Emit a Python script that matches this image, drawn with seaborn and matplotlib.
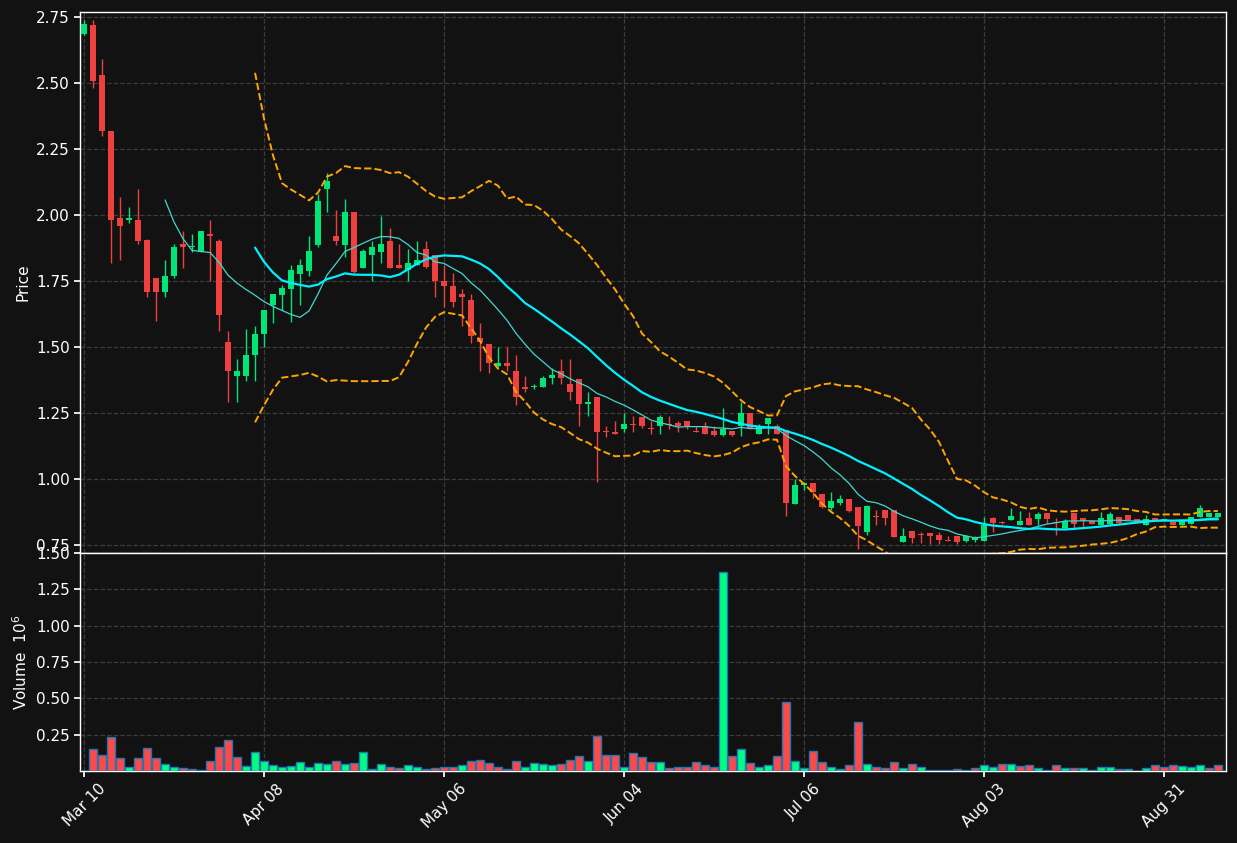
import numpy as np
import pandas as pd
import seaborn as sns
import matplotlib
matplotlib.use("Agg")
import matplotlib.pyplot as plt

# OHLC (one row per trading day)
opens = [2.686, 2.72, 2.53, 2.32, 1.99, 1.98, 1.98, 1.905, 1.76, 1.71,
         1.77, 1.89, 1.88, 1.86, 1.93, 1.90, 1.52, 1.39, 1.39, 1.47,
         1.55, 1.66, 1.697, 1.72, 1.777, 1.788, 1.886, 2.098, 1.92, 1.886,
         2.01, 1.80, 1.85, 1.86, 1.90, 1.81, 1.79, 1.81, 1.87, 1.85,
         1.75, 1.73, 1.70, 1.68, 1.534, 1.51, 1.43, 1.44, 1.41, 1.35,
         1.35, 1.35, 1.383, 1.41, 1.36, 1.38, 1.284, 1.31, 1.18, 1.18,
         1.19, 1.205, 1.236, 1.19, 1.20, 1.205, 1.212, 1.22, 1.18, 1.20,
         1.183, 1.167, 1.183, 1.20, 1.25, 1.17, 1.208, 1.20, 1.185, 0.905,
         0.978, 0.984, 0.943, 0.889, 0.91, 0.924, 0.894, 0.80, 0.86, 0.883,
         0.883, 0.763, 0.803, 0.79, 0.796, 0.79, 0.767, 0.784, 0.766, 0.771,
         0.765, 0.853, 0.834, 0.846, 0.826, 0.853, 0.848, 0.873, 0.835, 0.816,
         0.87, 0.852, 0.841, 0.826, 0.83, 0.855, 0.864, 0.848, 0.826, 0.853,
         0.845, 0.838, 0.826, 0.83, 0.855, 0.857, 0.855]
highs = [2.74, 2.74, 2.59, 2.32, 2.07, 2.03, 2.10, 1.91, 1.76, 1.83,
         1.89, 1.94, 1.93, 1.94, 1.98, 1.91, 1.56, 1.455, 1.57, 1.58,
         1.64, 1.70, 1.735, 1.81, 1.833, 1.92, 2.08, 2.16, 2.02, 2.06,
         2.01, 1.87, 1.90, 1.997, 1.95, 1.89, 1.87, 1.90, 1.90, 1.85,
         1.81, 1.78, 1.72, 1.70, 1.59, 1.51, 1.50, 1.50, 1.47, 1.39,
         1.36, 1.39, 1.42, 1.455, 1.455, 1.38, 1.33, 1.31, 1.20, 1.22,
         1.25, 1.24, 1.236, 1.22, 1.243, 1.24, 1.22, 1.22, 1.20, 1.215,
         1.20, 1.27, 1.183, 1.29, 1.25, 1.21, 1.233, 1.21, 1.185, 1.00,
         0.99, 0.985, 0.943, 0.952, 0.94, 0.924, 0.894, 0.90, 0.883, 0.883,
         0.883, 0.814, 0.803, 0.80, 0.796, 0.80, 0.784, 0.784, 0.79, 0.784,
         0.855, 0.855, 0.84, 0.89, 0.879, 0.876, 0.876, 0.873, 0.852, 0.85,
         0.87, 0.852, 0.841, 0.875, 0.875, 0.855, 0.864, 0.848, 0.864, 0.853,
         0.85, 0.838, 0.845, 0.855, 0.90, 0.87, 0.87]
lows = [2.68, 2.48, 2.30, 1.82, 1.83, 1.97, 1.89, 1.69, 1.60, 1.69,
        1.76, 1.80, 1.86, 1.86, 1.75, 1.56, 1.29, 1.29, 1.37, 1.37,
        1.50, 1.59, 1.64, 1.595, 1.66, 1.77, 1.88, 2.01, 1.886, 1.84,
        1.78, 1.80, 1.75, 1.82, 1.80, 1.80, 1.75, 1.81, 1.80, 1.69,
        1.65, 1.65, 1.58, 1.515, 1.41, 1.40, 1.425, 1.41, 1.28, 1.33,
        1.34, 1.35, 1.36, 1.36, 1.30, 1.20, 1.24, 0.99, 1.16, 1.17,
        1.18, 1.18, 1.195, 1.17, 1.17, 1.19, 1.18, 1.19, 1.18, 1.17,
        1.165, 1.165, 1.165, 1.165, 1.19, 1.17, 1.17, 1.17, 0.86, 0.905,
        0.96, 0.93, 0.89, 0.883, 0.90, 0.875, 0.735, 0.788, 0.826, 0.826,
        0.781, 0.763, 0.757, 0.757, 0.755, 0.755, 0.765, 0.755, 0.76, 0.76,
        0.765, 0.80, 0.83, 0.845, 0.826, 0.826, 0.826, 0.832, 0.79, 0.816,
        0.815, 0.82, 0.83, 0.826, 0.83, 0.834, 0.845, 0.836, 0.826, 0.845,
        0.84, 0.826, 0.826, 0.83, 0.855, 0.857, 0.855]
closes = [2.723, 2.509, 2.32, 1.98, 1.96, 1.99, 1.90, 1.71, 1.71, 1.77,
          1.88, 1.88, 1.88, 1.94, 1.92, 1.62, 1.41, 1.41, 1.47, 1.55,
          1.64, 1.70, 1.725, 1.79, 1.81, 1.864, 2.053, 2.13, 1.90, 2.01,
          1.785, 1.864, 1.88, 1.89, 1.80, 1.80, 1.82, 1.83, 1.805, 1.75,
          1.73, 1.67, 1.69, 1.54, 1.52, 1.44, 1.44, 1.43, 1.31, 1.34,
          1.35, 1.383, 1.394, 1.383, 1.33, 1.284, 1.29, 1.18, 1.178, 1.17,
          1.21, 1.203, 1.20, 1.188, 1.235, 1.203, 1.20, 1.20, 1.178, 1.17,
          1.167, 1.19, 1.167, 1.25, 1.19, 1.20, 1.233, 1.17, 0.91, 0.976,
          0.984, 0.952, 0.895, 0.917, 0.924, 0.88, 0.822, 0.898, 0.858, 0.853,
          0.781, 0.784, 0.778, 0.788, 0.784, 0.77, 0.766, 0.76, 0.784, 0.777,
          0.826, 0.834, 0.833, 0.86, 0.841, 0.826, 0.867, 0.848, 0.832, 0.843,
          0.83, 0.84, 0.83, 0.852, 0.867, 0.834, 0.845, 0.836, 0.848, 0.845,
          0.845, 0.826, 0.845, 0.855, 0.89, 0.87, 0.87]
# volume in millions
volumes = [0.0, 0.150, 0.109, 0.234, 0.088, 0.025, 0.088, 0.157, 0.088, 0.046,
           0.025, 0.019, 0.012, 0.007, 0.069, 0.164, 0.213, 0.095, 0.032, 0.130,
           0.067, 0.039, 0.025, 0.032, 0.060, 0.025, 0.053, 0.046, 0.067, 0.046,
           0.053, 0.130, 0.012, 0.046, 0.025, 0.019, 0.039, 0.025, 0.012, 0.019,
           0.025, 0.025, 0.039, 0.067, 0.074, 0.053, 0.025, 0.012, 0.067, 0.030,
           0.053, 0.046, 0.039, 0.046, 0.074, 0.102, 0.067, 0.241, 0.109, 0.109,
           0.025, 0.123, 0.095, 0.060, 0.060, 0.019, 0.025, 0.030, 0.060, 0.039,
           0.025, 1.368, 0.102, 0.150, 0.053, 0.025, 0.039, 0.102, 0.477, 0.067,
           0.019, 0.137, 0.060, 0.030, 0.016, 0.044, 0.340, 0.051, 0.030, 0.023,
           0.065, 0.023, 0.051, 0.030, 0.005, 0.005, 0.010, 0.016, 0.010, 0.023,
           0.044, 0.030, 0.051, 0.051, 0.037, 0.044, 0.023, 0.010, 0.044, 0.023,
           0.023, 0.023, 0.005, 0.030, 0.030, 0.016, 0.016, 0.003, 0.023, 0.044,
           0.030, 0.044, 0.037, 0.030, 0.044, 0.020, 0.040]
tick_labels = ["Mar 10", "Apr 08", "May 06", "Jun 04", "Jul 06", "Aug 03", "Aug 31"]

df = pd.DataFrame({"Open": opens, "High": highs, "Low": lows,
                   "Close": closes, "Volume": volumes})
df["i"] = np.arange(len(df))
df["ma10"] = df["Close"].rolling(10).mean()
df["ma20"] = df["Close"].rolling(20).mean()
std20 = df["Close"].rolling(20).std(ddof=0)
df["bb_up"] = df["ma20"] + 2 * std20
df["bb_lo"] = df["ma20"] - 2 * std20

up_col, dn_col = "#00e676", "#ef4040"
vol_up, vol_dn = "#00ff80", "#ff4848"
bg = "#121212"

sns.set_theme(style="dark", rc={
    "axes.facecolor": bg, "figure.facecolor": bg, "axes.edgecolor": "white",
    "text.color": "white", "axes.labelcolor": "white",
    "xtick.color": "white", "ytick.color": "white",
    "grid.color": "#3c3c3c", "grid.linestyle": "--",
})
plt.rcParams["font.family"] = ["DejaVu Sans"]

fig = plt.figure(figsize=(12.37, 8.43), dpi=100)
ax = fig.add_axes([0.0647, 0.344, 0.9264, 0.6418])
axv = fig.add_axes([0.0647, 0.0854, 0.9264, 0.2586], sharex=ax)

# candles
is_up = df["Close"] >= df["Open"]
cols = np.where(is_up, up_col, dn_col)
ax.vlines(df["i"], df["Low"], df["High"], colors=cols, linewidth=1, zorder=2)
body_h = (df["Close"] - df["Open"]).abs().clip(lower=0.004)
body_b = df[["Open", "Close"]].min(axis=1)
ax.bar(df["i"], body_h, bottom=body_b, width=0.6, color=cols, linewidth=0, zorder=3)

# moving averages and bands
sns.lineplot(data=df, x="i", y="ma10", ax=ax, color="#40d8d0", linewidth=0.9, zorder=4)
sns.lineplot(data=df, x="i", y="ma20", ax=ax, color="#00f0ff", linewidth=1.6, zorder=4)
sns.lineplot(data=df, x="i", y="bb_up", ax=ax, color="orange", linewidth=1.4,
             linestyle="--", zorder=4)
sns.lineplot(data=df, x="i", y="bb_lo", ax=ax, color="orange", linewidth=1.4,
             linestyle="--", zorder=4)

# volume, coloured by close vs previous close
vcols = np.where(df["Close"].diff().fillna(-1) > 0, vol_up, vol_dn)
axv.bar(df["i"], df["Volume"], width=0.9, color=vcols, edgecolor="#1f77b4",
        linewidth=1, zorder=3)

tick_pos = np.arange(0, len(df), 20)
for a in (ax, axv):
    a.grid(True, axis="both", linestyle="--", color="#3c3c3c", linewidth=0.9)
    a.set_axisbelow(True)
    for s in a.spines.values():
        s.set_color("white")
        s.set_linewidth(1)
    a.tick_params(axis="both", length=4, color="white", labelsize=11, left=True, bottom=True)

ax.set_xlim(-0.45, 126.9)
ax.set_ylim(0.72, 2.769)
ax.set_yticks(np.arange(0.75, 2.76, 0.25))
ax.set_yticklabels([f"{v:.2f}" for v in np.arange(0.75, 2.76, 0.25)])
ax.set_ylabel("Price", fontsize=11)
ax.set_xlabel("")
ax.tick_params(axis="x", labelbottom=False)

axv.set_ylim(0, 1.5)
axv.set_yticks(np.arange(0.25, 1.51, 0.25))
axv.set_yticklabels([f"{v:.2f}" for v in np.arange(0.25, 1.51, 0.25)])
axv.set_ylabel("Volume  $10^{6}$", fontsize=11)
axv.set_xticks(tick_pos)
axv.set_xticklabels(tick_labels, rotation=45, ha="center")
axv.set_xlabel("")

fig.savefig("out.png", dpi=100, facecolor=bg)
